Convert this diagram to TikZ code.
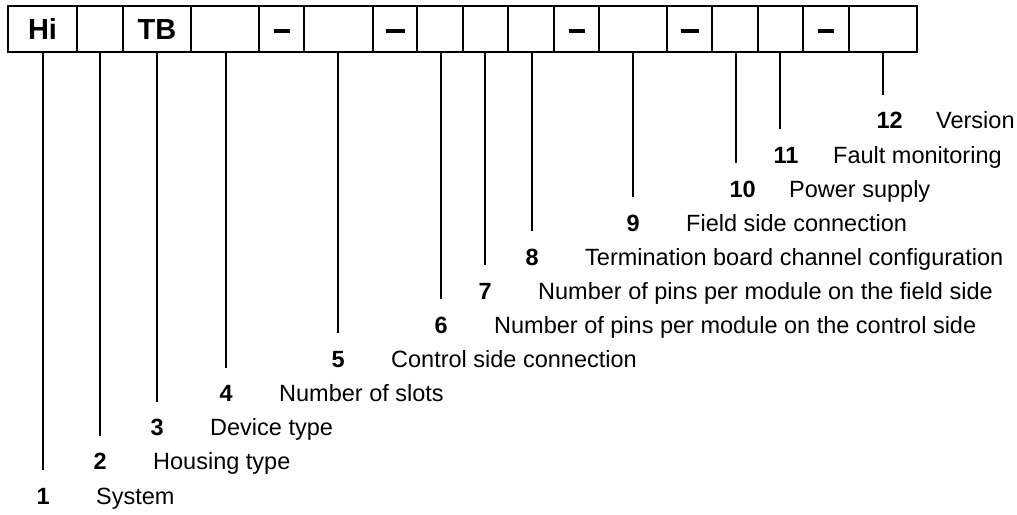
\documentclass[tikz,border=0pt]{standalone}
\usepackage{fontspec}
\setmainfont{Liberation Sans}
\newcommand{\dashbar}[1]{\raisebox{6.8pt}{\rule{#1pt}{3.5pt}}}
\begin{document}
\begin{tikzpicture}[x=1pt,y=-1pt,
  cell/.style={draw,line width=2pt,minimum height=46pt,inner sep=0pt,text height=20.8pt,text depth=0pt,font=\fontsize{29}{30}\selectfont\bfseries},
  num/.style={inner sep=0pt,minimum height=56pt,text height=17pt,text depth=5pt,font=\fontsize{23.5}{26}\selectfont\bfseries},
  lbl/.style={inner sep=0pt,anchor=west,text height=17pt,text depth=5pt,font=\fontsize{23.5}{26}\selectfont},
  tick/.style={line width=2pt}]
\useasboundingbox (0,0) rectangle (1017,514);
% boxes
\foreach \n/\a/\b/\t in {1/8/77/Hi,2/77/123/,3/123/191/TB,4/191/259/,5/259/304/\dashbar{16},6/304/373/,7/373/417/\dashbar{19},8/417/463/,9/463/508/,10/508/554/,11/554/599/\dashbar{16},12/599/667/,13/667/712/\dashbar{18},14/712/758/,15/758/803/,16/803/849/\dashbar{16},17/849/917/}{
  \pgfmathsetmacro{\w}{\b-\a}
  \node[cell,minimum width=\w pt] (b\n) at ({(\a+\b)/2},29) {\t};
}
% labels
\foreach \i/\bx/\x/\t in {1/1/43/System,2/2/100/Housing type,3/3/157/Device type,4/4/226/Number of slots,5/6/338/Control side connection,6/8/441/Number of pins per module on the control side,7/9/485/Number of pins per module on the field side,8/10/532/Termination board channel configuration,9/12/633/Field side connection,10/14/736/Power supply,11/15/780/Fault monitoring,12/17/883/Version}{
  \pgfmathsetmacro{\y}{498-(\i-1)*34.1}
  \node[num] (n\i) at (\x,\y) {\makebox[13pt][l]{\i}};
  \node[lbl] (t\i) at (\x+53,\y) {\t};
  \draw[tick] (n\i.north |- b\bx.south) -- (n\i.north);
}
\end{tikzpicture}
\end{document}
